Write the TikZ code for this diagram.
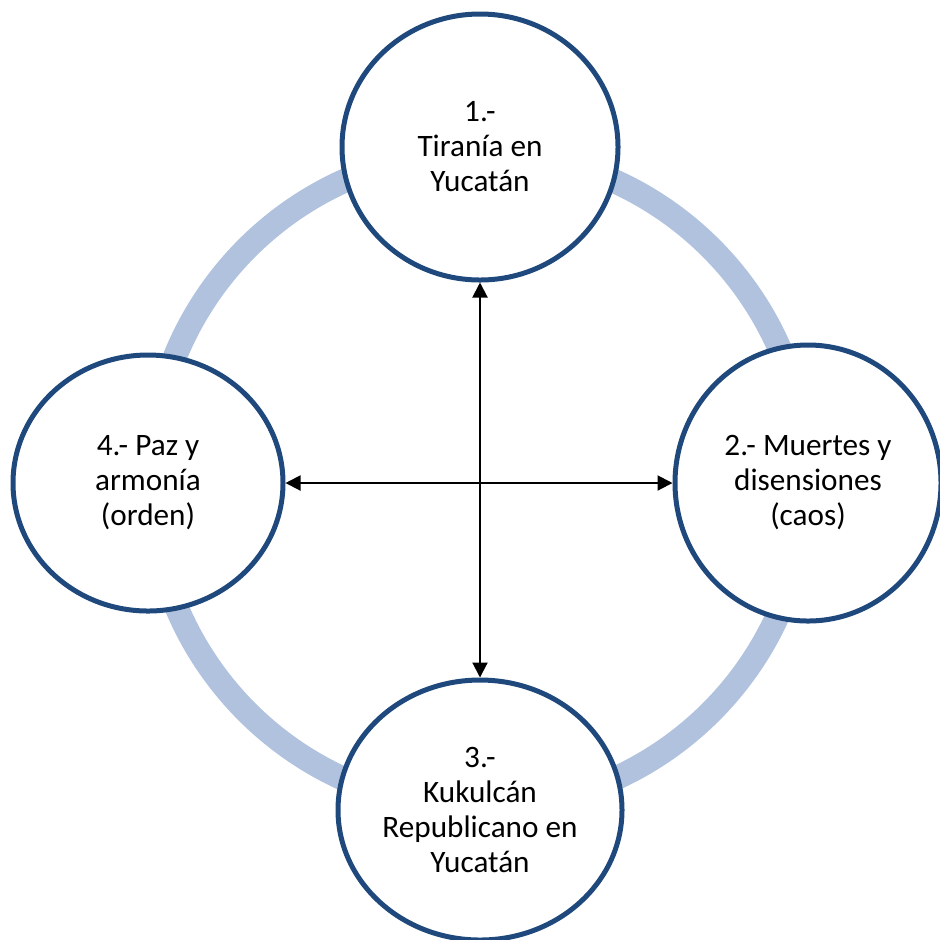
\documentclass[tikz,border=0pt]{standalone}
\usepackage{fontspec}
\setmainfont{Carlito}
\usetikzlibrary{arrows.meta,shapes.geometric}
\definecolor{borde}{RGB}{31,73,125}
\definecolor{anillo}{RGB}{176,194,222}

\begin{document}
\begin{tikzpicture}[x=0.5pt, y=-0.5pt,
  etapa/.style={shape=ellipse, draw=borde, line width=2.5pt, fill=white, align=center, inner sep=0pt, font=\fontsize{15.6}{17.5}\selectfont},
  flecha/.style={{Triangle[length=7.5pt,width=7.5pt]}-{Triangle[length=7.5pt,width=7.5pt]}, line width=1pt, draw=black}]
\useasboundingbox (0,0) rectangle (940,939);
\draw[draw=anillo, line width=12pt] (479,480) circle (164pt);
\node[etapa, minimum width=138pt, minimum height=133pt] (uno) at (480,147) {1.-\\Tiranía en\\Yucatán};
\node[etapa, minimum width=133pt, minimum height=138pt] (dos) at (808,483) {2.- Muertes y\\disensiones\\(caos)};
\node[etapa, minimum width=142pt, minimum height=130pt] (tres) at (480,810) {3.-\\Kukulcán\\Republicano en\\Yucatán};
\node[etapa, minimum width=135pt, minimum height=128pt] (cuatro) at (148,483) {4.- Paz y\\armonía\\(orden)};
\path[flecha] (uno) edge (tres);
\path[flecha] (cuatro) edge (dos);
\end{tikzpicture}
\end{document}
